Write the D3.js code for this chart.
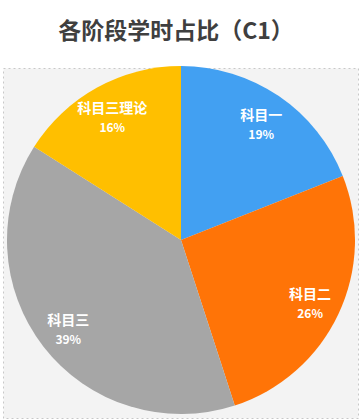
<!DOCTYPE html>
<html>
<head>
<meta charset="utf-8">
<script src="https://cdn.jsdelivr.net/npm/d3@7"></script>
<style>
  body { margin: 0; background: #ffffff; }
  text { font-family: "Noto Sans CJK SC", "Noto Sans", sans-serif; }
</style>
</head>
<body>
<div id="chart"></div>
<script>
var svgWidth = 364;
var svgHeight = 420;

// chart data
var categories = ["科目一", "科目二", "科目三", "科目三理论"];
var shares = [19, 26, 39, 16];
var colors = ["#42a0f2", "#ff7407", "#a6a6a6", "#ffbf00"];
var title = "各阶段学时占比（C1）";

var cx = 181, cy = 240, radius = 174;

var svg = d3.select("#chart")
  .append("svg")
  .attr("width", svgWidth)
  .attr("height", svgHeight);

// title
svg.append("text")
  .attr("x", 176)
  .attr("y", 39)
  .attr("text-anchor", "middle")
  .attr("font-size", "23px")
  .attr("font-weight", "bold")
  .attr("fill", "#3f3f3f")
  .text(title);

// panel behind the pie
svg.append("rect")
  .attr("x", 3.5)
  .attr("y", 68.5)
  .attr("width", 355)
  .attr("height", 350)
  .attr("fill", "#f3f3f3")
  .attr("stroke", "#c8c8c8")
  .attr("stroke-dasharray", "2,3");

var pieData = d3.pie()
  .sort(null)
  .value(d => d)(shares);

var arc = d3.arc().innerRadius(0).outerRadius(radius);
var labelArc = d3.arc().innerRadius(radius * 0.82).outerRadius(radius * 0.82);

var pieGroup = svg.append("g")
  .attr("transform", `translate(${cx}, ${cy})`);

pieGroup.selectAll("path")
  .data(pieData)
  .enter()
  .append("path")
  .attr("d", arc)
  .attr("fill", (d, i) => colors[i]);

var labels = pieGroup.selectAll(".lbl")
  .data(pieData)
  .enter()
  .append("g")
  .attr("class", "lbl")
  .attr("transform", d => {
    var c = labelArc.centroid(d);
    return `translate(${c[0]}, ${c[1] + 4})`;
  });

labels.append("text")
  .attr("text-anchor", "middle")
  .attr("y", -6)
  .attr("font-size", "14px")
  .attr("font-weight", "bold")
  .attr("fill", "#ffffff")
  .text((d, i) => categories[i]);

labels.append("text")
  .attr("text-anchor", "middle")
  .attr("y", 13)
  .attr("font-size", "12px")
  .attr("font-weight", "bold")
  .attr("fill", "#ffffff")
  .text(d => d.data + "%");
</script>
</body>
</html>
